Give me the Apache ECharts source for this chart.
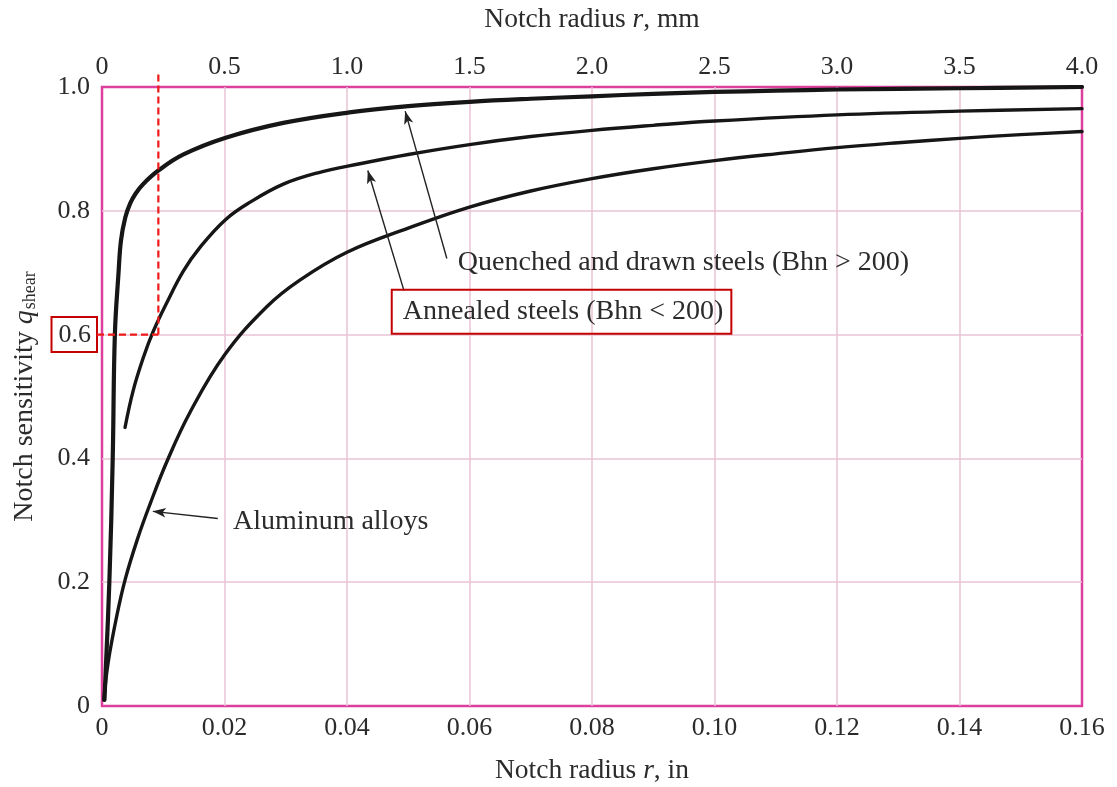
<!DOCTYPE html>
<html>
<head>
<meta charset="utf-8">
<title>Notch sensitivity</title>
<script src="https://cdn.jsdelivr.net/npm/echarts@6/dist/echarts.min.js"></script>
<style>
  html, body { margin: 0; padding: 0; background: #fff; }
  #main { width: 1117px; height: 787px; }
</style>
</head>
<body>
<div id="main"></div>
<script>
// notch radius r (in) / notch sensitivity q
var quenchedR = [0.0004, 0.0012, 0.00175, 0.0021, 0.0027, 0.0031, 0.0038, 0.0046, 0.0055, 0.0067, 0.0092, 0.0133, 0.0202, 0.0296, 0.0404, 0.05, 0.06, 0.07, 0.08, 0.09, 0.10, 0.11, 0.12, 0.14, 0.16];
var quenchedQ = [0.01, 0.2, 0.4, 0.6, 0.7, 0.752, 0.789, 0.812, 0.828, 0.843, 0.865, 0.891, 0.918, 0.942, 0.959, 0.969, 0.976, 0.981, 0.985, 0.989, 0.992, 0.994, 0.996, 0.998, 1.0];

var annealedR = [0.00376, 0.0051, 0.00675, 0.0084, 0.0106, 0.0133, 0.016, 0.0202, 0.0242, 0.0296, 0.0351, 0.0421, 0.05, 0.06, 0.07, 0.08, 0.09, 0.10, 0.12, 0.14, 0.16];
var annealedQ = [0.45, 0.51, 0.563, 0.606, 0.652, 0.703, 0.741, 0.786, 0.814, 0.843, 0.861, 0.876, 0.891, 0.907, 0.92, 0.93, 0.938, 0.945, 0.955, 0.961, 0.965];

var aluminumR = [0.0003, 0.001, 0.0024, 0.0038, 0.0058, 0.0078, 0.0106, 0.0144, 0.02, 0.0269, 0.0323, 0.04, 0.05, 0.06, 0.07, 0.08, 0.09, 0.10, 0.11, 0.12, 0.13, 0.14, 0.15, 0.16];
var aluminumQ = [0.01, 0.07, 0.145, 0.205, 0.27, 0.325, 0.395, 0.475, 0.567, 0.645, 0.688, 0.733, 0.772, 0.806, 0.832, 0.852, 0.868, 0.881, 0.892, 0.902, 0.910, 0.917, 0.923, 0.928];

// annotation texts and their arrows (from -> to), in data units
var labelTexts = ['Quenched and drawn steels (Bhn > 200)', 'Annealed steels (Bhn < 200)', 'Aluminum alloys'];
var labelAt = [[0.0581, 0.716], [0.0491, 0.637], [0.0214, 0.298]];
var arrowFrom = [[0.0563, 0.723], [0.0493, 0.671], [0.0189, 0.303]];
var arrowTo = [[0.0495, 0.961], [0.0434, 0.865], [0.0083, 0.3145]];

// red dashed reading line: r = 0.0092 in gives q = 0.6
var readR = 0.0092;
var readQ = 0.6;

var FONT = '"Liberation Serif", "Times New Roman", serif';
var INK = '#2b2b2b';

function zip(xs, ys) {
  var out = [];
  for (var i = 0; i < xs.length; i++) out.push([xs[i], ys[i]]);
  return out;
}

function arrow(i) {
  return {
    silent: true,
    symbol: ['none', 'arrow'],
    symbolSize: [7, 13],
    label: { show: false },
    lineStyle: { color: '#222', width: 1.4, type: 'solid' },
    data: [[{ coord: arrowFrom[i] }, { coord: arrowTo[i] }]]
  };
}

function curve(name, data, width, idx) {
  return {
    name: name,
    type: 'line',
    data: data,
    smooth: 0.4,
    showSymbol: false,
    lineStyle: { color: '#161616', width: width, cap: 'round', join: 'round' },
    markLine: arrow(idx),
    z: 3
  };
}

var nameRich = {
  t: { fontFamily: FONT, fontSize: 27.5, color: INK },
  i: { fontFamily: FONT, fontSize: 27.5, color: INK, fontStyle: 'italic' }
};
var gridLine = { show: true, showMinLine: false, showMaxLine: false, lineStyle: { color: '#eac3d5', width: 1.5 } };

var chart = echarts.init(document.getElementById('main'), null, { renderer: 'canvas' });

var option = {
  animation: false,
  backgroundColor: '#fff',
  grid: {
    left: 102, right: 35, top: 87, bottom: 81,
    containLabel: false,
    outerBoundsMode: 'none',
    show: true,
    borderColor: '#dc3f9c',
    borderWidth: 2.5,
    backgroundColor: 'transparent'
  },
  xAxis: [
    {
      type: 'value',
      position: 'bottom',
      min: 0, max: 0.16, interval: 0.02,
      name: '{t|Notch radius }{i|r}{t|, in}',
      nameLocation: 'middle',
      nameGap: 51,
      nameTextStyle: { rich: nameRich },
      axisLine: { show: false },
      axisTick: { show: false },
      axisLabel: {
        margin: 9,
        fontFamily: FONT, fontSize: 26, color: INK,
        formatter: function (v) { return v === 0 ? '0' : v.toFixed(2); }
      },
      splitLine: gridLine
    },
    {
      type: 'value',
      position: 'top',
      min: 0, max: 4, interval: 0.5,
      name: '{t|Notch radius }{i|r}{t|, mm}',
      nameLocation: 'middle',
      nameGap: 53,
      nameTextStyle: { rich: nameRich },
      axisLine: { show: false },
      axisTick: { show: false },
      axisLabel: {
        margin: 7,
        fontFamily: FONT, fontSize: 26, color: INK,
        formatter: function (v) { return v === 0 ? '0' : v.toFixed(1); }
      },
      splitLine: { show: false }
    }
  ],
  yAxis: {
    type: 'value',
    min: 0, max: 1, interval: 0.2,
    name: '{t|Notch sensitivity }{q|q}{s|shear}',
    nameLocation: 'middle',
    nameGap: 62,
    nameTextStyle: {
      rich: {
        t: { fontFamily: FONT, fontSize: 28, color: INK },
        q: { fontFamily: FONT, fontSize: 28, color: INK, fontStyle: 'italic' },
        s: { fontFamily: FONT, fontSize: 18, color: INK, padding: [12, 0, 0, 1] }
      }
    },
    axisLine: { show: false },
    axisTick: { show: false },
    axisLabel: {
      margin: 5,
      formatter: function (v) {
        var s = v === 0 ? '0' : v.toFixed(1);
        return Math.abs(v - readQ) < 1e-9 ? '{box|' + s + '}' : '{n|' + s + '}';
      },
      rich: {
        n: { fontFamily: FONT, fontSize: 26, color: INK, padding: [5, 7, 5, 7] },
        box: {
          fontFamily: FONT, fontSize: 26, color: INK, padding: [5, 6, 4, 7],
          borderColor: '#c40000', borderWidth: 2
        }
      }
    },
    splitLine: gridLine
  },
  series: [
    curve('Quenched and drawn steels', zip(quenchedR, quenchedQ), 4.2, 0),
    curve('Annealed steels', zip(annealedR, annealedQ), 3.4, 1),
    curve('Aluminum alloys', zip(aluminumR, aluminumQ), 3.4, 2)
  ]
};

chart.setOption(option);

// annotations placed through the chart's own scales
function px(r, q) {
  return chart.convertToPixel({ xAxisIndex: 0, yAxisIndex: 0 }, [r, q]);
}

var corner = px(readR, readQ);
var above = px(readR, 1.026);
var leftEdge = px(0, readQ);
var dashStyle = { stroke: '#f01818', lineWidth: 2.2, lineDash: [7, 4] };

var graphics = [
  { type: 'line', z: 10, shape: { x1: corner[0], y1: corner[1], x2: above[0], y2: above[1] }, style: dashStyle },
  { type: 'line', z: 10, shape: { x1: leftEdge[0] - 5, y1: corner[1], x2: corner[0], y2: corner[1] }, style: dashStyle }
];

for (var i = 0; i < labelTexts.length; i++) {
  var p = px(labelAt[i][0], labelAt[i][1]);
  var st = {
    text: labelTexts[i],
    fill: INK,
    font: '28px ' + FONT,
    align: 'left',
    verticalAlign: 'middle'
  };
  if (i === 1) {
    st.borderColor = '#c40000';
    st.borderWidth = 2;
    st.padding = [8, 8, 8, 11];
  }
  graphics.push({ type: 'text', z: 10, x: i === 1 ? p[0] - 11 : p[0], y: p[1], style: st });
}

chart.setOption({ graphic: graphics });
</script>
</body>
</html>
